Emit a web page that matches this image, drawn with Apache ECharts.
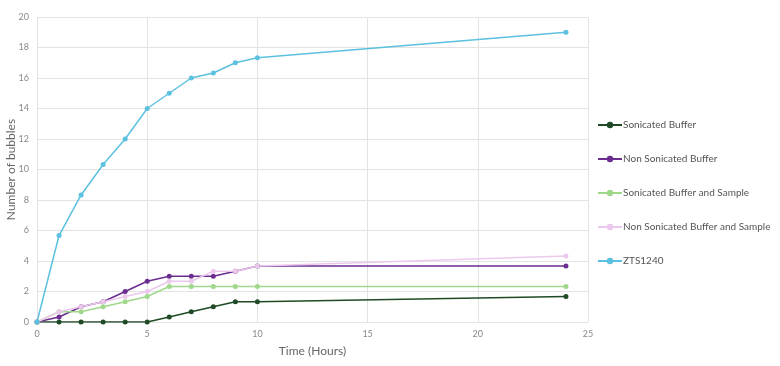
<!DOCTYPE html>
<html><head><meta charset="utf-8">
<script src="https://cdn.jsdelivr.net/npm/echarts@6/dist/echarts.min.js"></script>
<style>html,body{margin:0;padding:0;background:#fff}#c{width:780px;height:366px}</style>
</head><body><div id="c"></div>
<script>
const hours = [0,1,2,3,4,5,6,7,8,9,10,24];
const seriesNames = ["Sonicated Buffer","Non Sonicated Buffer","Sonicated Buffer and Sample","Non Sonicated Buffer and Sample","ZTS1240"];
const sonicatedBuffer = [0,0,0,0,0,0,0.33,0.67,1,1.33,1.33,1.67];
const nonSonicatedBuffer = [0,0.33,1,1.33,2,2.67,3,3,3,3.33,3.67,3.67];
const sonicatedBufferSample = [0,0.67,0.67,1,1.33,1.67,2.33,2.33,2.33,2.33,2.33,2.33];
const nonSonicatedBufferSample = [0,0.67,1,1.33,1.67,2,2.67,2.67,3.33,3.33,3.67,4.33];
const zts1240 = [0,5.67,8.33,10.33,12,14,15,16,16.33,17,17.33,19];
const colors = ["#1f4a25","#6b2d90","#9fd88a","#ecc9ec","#5cc1e0"];
const allValues = [sonicatedBuffer,nonSonicatedBuffer,sonicatedBufferSample,nonSonicatedBufferSample,zts1240];
const chart = echarts.init(document.getElementById('c'));
chart.setOption({
  animation:false,
  textStyle:{fontFamily:'Lato, "Open Sans", sans-serif'},
  grid:{left:37,right:192,top:17,bottom:44,containLabel:false,outerBoundsMode:'none'},
  legend:{orient:'vertical',left:592,top:115,itemGap:24,itemWidth:24,itemHeight:8,
    textStyle:{color:'#555',fontSize:10,padding:[0,0,0,-4]},
    data:seriesNames},
  xAxis:{type:'value',min:0,max:25,interval:5,name:'Time (Hours)',nameLocation:'middle',nameGap:23,nameMoveOverlap:false,
    nameTextStyle:{color:'#666',fontSize:12},
    axisLine:{show:false},axisTick:{show:false},
    axisLabel:{color:'#888',fontSize:9,margin:8},
    splitLine:{show:true,lineStyle:{color:'#e3e3e3'}}},
  yAxis:{type:'value',min:0,max:20,interval:2,name:'Number of bubbles',nameLocation:'middle',nameGap:20,nameMoveOverlap:false,
    nameTextStyle:{color:'#666',fontSize:12},
    axisLine:{show:false},axisTick:{show:false},
    axisLabel:{color:'#888',fontSize:9,margin:8},
    splitLine:{show:true,lineStyle:{color:'#e3e3e3'}}},
  series: seriesNames.map((n,i)=>({
    name:n,type:'line',
    data:hours.map((h,j)=>[h,allValues[i][j]]),
    symbol:'circle',symbolSize:5,
    lineStyle:{color:colors[i],width:1.5},
    itemStyle:{color:colors[i]}
  }))
});
</script></body></html>
